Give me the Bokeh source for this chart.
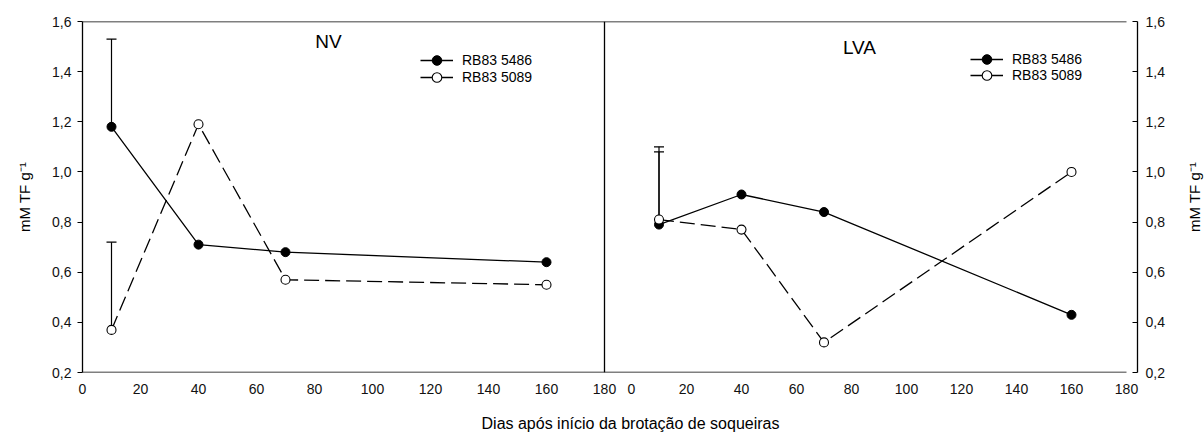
import math
from bokeh.plotting import figure
from bokeh.layouts import row, column
from bokeh.models import (Range1d, LinearAxis, FixedTicker, CustomJSTickFormatter, Legend,
                          LegendItem, Whisker, TeeHead, ColumnDataSource, Label)
from bokeh.embed import file_html
from bokeh.resources import INLINE

# ---------------- data ----------------
DAYS = [10, 40, 70, 160]
NV_RB835486 = [1.18, 0.71, 0.68, 0.64]
NV_RB835089 = [0.37, 1.19, 0.57, 0.55]
LVA_RB835486 = [0.79, 0.91, 0.84, 0.43]
LVA_RB835089 = [0.81, 0.77, 0.32, 1.00]

ERR_DAYS = [10]
NV_RB835486_UP = [1.53]
NV_RB835089_UP = [0.72]
LVA_RB835486_UP = [1.10]
LVA_RB835089_UP = [1.08]

X_TICKS = [0, 20, 40, 60, 80, 100, 120, 140, 160, 180]
Y_TICKS = [0.2, 0.4, 0.6, 0.8, 1.0, 1.2, 1.4, 1.6]
SERIES = ["RB83 5486", "RB83 5089"]
PANELS = ["NV", "LVA"]
X_LABEL = "Dias após início da brotação de soqueiras"
Y_LABEL = "mM TF g\u207b\u00b9"

# ---------------- layout ----------------
FONT = "Liberation Sans"
FIG_W, FIG_H = 1204, 433
MAIN_W, MAIN_H = 1180, 405
FRAME_L, FRAME_T = 82, 21
FRAME_W, FRAME_H = 1055, 351
L_PX = 2.9            # px per day, left panel
R_PX = 2.75           # px per day, right panel
R_OFF = 549           # px from frame left to day 0 of right panel
L_END = FRAME_W / L_PX
R_START = -R_OFF / R_PX
R_END = R_START + FRAME_W / R_PX
K = L_END / (R_END - R_START)
XMAX = X_TICKS[-1]
YMIN, YMAX = Y_TICKS[0], Y_TICKS[-1]

p = figure(width=MAIN_W, height=MAIN_H, output_backend="svg", toolbar_location=None,
           x_range=Range1d(0, L_END), y_range=Range1d(YMIN, YMAX),
           x_axis_type=None, y_axis_type=None,
           min_border_left=FRAME_L, min_border_right=MAIN_W - FRAME_L - FRAME_W,
           min_border_top=FRAME_T, min_border_bottom=MAIN_H - FRAME_T - FRAME_H)
p.extra_x_ranges = {"right": Range1d(R_START, R_END)}
p.outline_line_color = None
p.grid.visible = False
p.background_fill_color = "white"
p.border_fill_color = "white"

yfmt = CustomJSTickFormatter(code="return tick.toFixed(1).replace('.', ',');")


def style_axis(ax):
    ax.major_label_text_font = FONT
    ax.major_label_text_font_size = "14px"
    ax.major_label_text_color = "#111111"
    ax.axis_line_color = "black"
    ax.axis_line_width = 1.3
    ax.major_tick_line_color = "black"
    ax.major_tick_line_width = 1.2
    ax.minor_tick_line_color = None
    ax.axis_label_text_font = FONT
    ax.axis_label_text_font_size = "15px"
    ax.axis_label_text_font_style = "normal"
    ax.axis_label_text_color = "black"


yl = LinearAxis(ticker=FixedTicker(ticks=Y_TICKS), formatter=yfmt, axis_label=Y_LABEL)
style_axis(yl)
yl.major_tick_out = 5
yl.major_tick_in = 0
yl.major_label_standoff = 6
yl.axis_label_standoff = 16
p.add_layout(yl, "left")

yr = LinearAxis(ticker=FixedTicker(ticks=Y_TICKS), formatter=yfmt)
style_axis(yr)
yr.major_tick_out = 0
yr.major_tick_in = 5
yr.major_label_standoff = 8
p.add_layout(yr, "right")

split = (XMAX + (X_TICKS[0] - R_START) * K) / 2
xticks = list(X_TICKS) + [(t - R_START) * K for t in X_TICKS]
xfmt = CustomJSTickFormatter(args=dict(k=K, s=R_START, split=split),
                             code="var v = tick > split ? tick / k + s : tick; return String(Math.round(v));")
xb = LinearAxis(ticker=FixedTicker(ticks=xticks), formatter=xfmt)
style_axis(xb)
xb.axis_line_color = None
xb.major_tick_line_color = None
xb.major_label_standoff = 5
p.add_layout(xb, "below")

# frame lines (top, bottom, divider)
p.segment(x0=[R_START, R_START], y0=[YMAX, YMIN], x1=[XMAX, XMAX], y1=[YMAX, YMIN],
          x_range_name="right", line_color="black", line_width=1.3)
p.segment(x0=[XMAX], y0=[YMIN], x1=[XMAX], y1=[YMAX], line_color="black", line_width=1.3)

DASH = "15 6"


def legend_row(label, renderers, x, y_center):
    leg = Legend(items=[LegendItem(label=label, renderers=renderers)],
                 location=(x, FRAME_H - (y_center - FRAME_T) - 12), orientation="vertical",
                 glyph_width=33, glyph_height=24, label_height=24, spacing=0,
                 padding=0, margin=0, label_standoff=9,
                 border_line_color=None, background_fill_alpha=0,
                 label_text_font=FONT, label_text_font_size="14px", label_text_color="black",
                 label_text_baseline="middle")
    p.add_layout(leg, "center")


def panel(xr, y5486, y5089, up5486, up5089, leg_x, leg_rows):
    kw = {} if xr is None else {"x_range_name": xr}
    for yv, up in ((y5486, up5486), (y5089, up5089)):
        src = ColumnDataSource(dict(base=ERR_DAYS, upper=up,
                                    lower=[yv[DAYS.index(d)] for d in ERR_DAYS]))
        w = Whisker(source=src, base="base", upper="upper", lower="lower", dimension="height",
                    upper_head=TeeHead(size=10, line_width=1.2, line_color="black"), lower_head=None,
                    line_width=1.2, line_color="black", level="underlay", **kw)
        p.add_layout(w)
    l1 = p.line(DAYS, y5486, line_color="black", line_width=1.3, **kw)
    p.line(DAYS, y5089, line_color="black", line_width=1.3, line_dash=DASH, **kw)
    s1 = p.scatter(DAYS, y5486, size=9, marker="circle", fill_color="black", line_color="black", **kw)
    s2 = p.scatter(DAYS, y5089, size=9, marker="circle", fill_color="white", line_color="black",
                   line_width=1.1, **kw)
    legend_row(SERIES[0], [l1, s1], leg_x - FRAME_L, leg_rows[0])
    legend_row(SERIES[1], [l1, s2], leg_x - FRAME_L, leg_rows[1])


panel(None, NV_RB835486, NV_RB835089, NV_RB835486_UP, NV_RB835089_UP, 420, (60, 77))
panel("right", LVA_RB835486, LVA_RB835089, LVA_RB835486_UP, LVA_RB835089_UP, 970, (59, 75))


def text_label(fig, x, y, text, size, angle=0.0):
    fig.add_layout(Label(x=x, y=y, x_units="screen", y_units="screen", angle=angle,
                         text=text, text_font=FONT, text_font_size=size, text_align="center",
                         text_baseline="middle", text_color="black"))


# panel titles (page coords -> frame coords)
text_label(p, 328 - FRAME_L, FRAME_H - (41 - FRAME_T), PANELS[0], "19px")
text_label(p, 859 - FRAME_L, FRAME_H - (47 - FRAME_T), PANELS[1], "19px")


def strip(w, h):
    f = figure(width=w, height=h, output_backend="svg", toolbar_location=None,
               x_range=Range1d(0, w), y_range=Range1d(0, h), x_axis_type=None, y_axis_type=None,
               min_border=0, min_border_left=0, min_border_right=0, min_border_top=0,
               min_border_bottom=0)
    f.outline_line_color = None
    f.grid.visible = False
    f.background_fill_color = "white"
    f.border_fill_color = "white"
    return f


# right axis title strip (reads bottom-to-top); rotated text is anchored lower to centre it
RS_W = FIG_W - MAIN_W
RS_SHIFT = 33
rs = strip(RS_W, MAIN_H)
text_label(rs, 1194 - MAIN_W, MAIN_H - (FRAME_T + FRAME_H / 2) - RS_SHIFT, Y_LABEL, "15px",
           math.pi / 2)

# x title strip
BS_H = FIG_H - MAIN_H
bs = strip(FIG_W, BS_H)
text_label(bs, 630, FIG_H - 423, X_LABEL, "16px")

layout = column(row(p, rs, spacing=0), bs, spacing=0)
open("out.html", "w").write(file_html(layout, INLINE))
